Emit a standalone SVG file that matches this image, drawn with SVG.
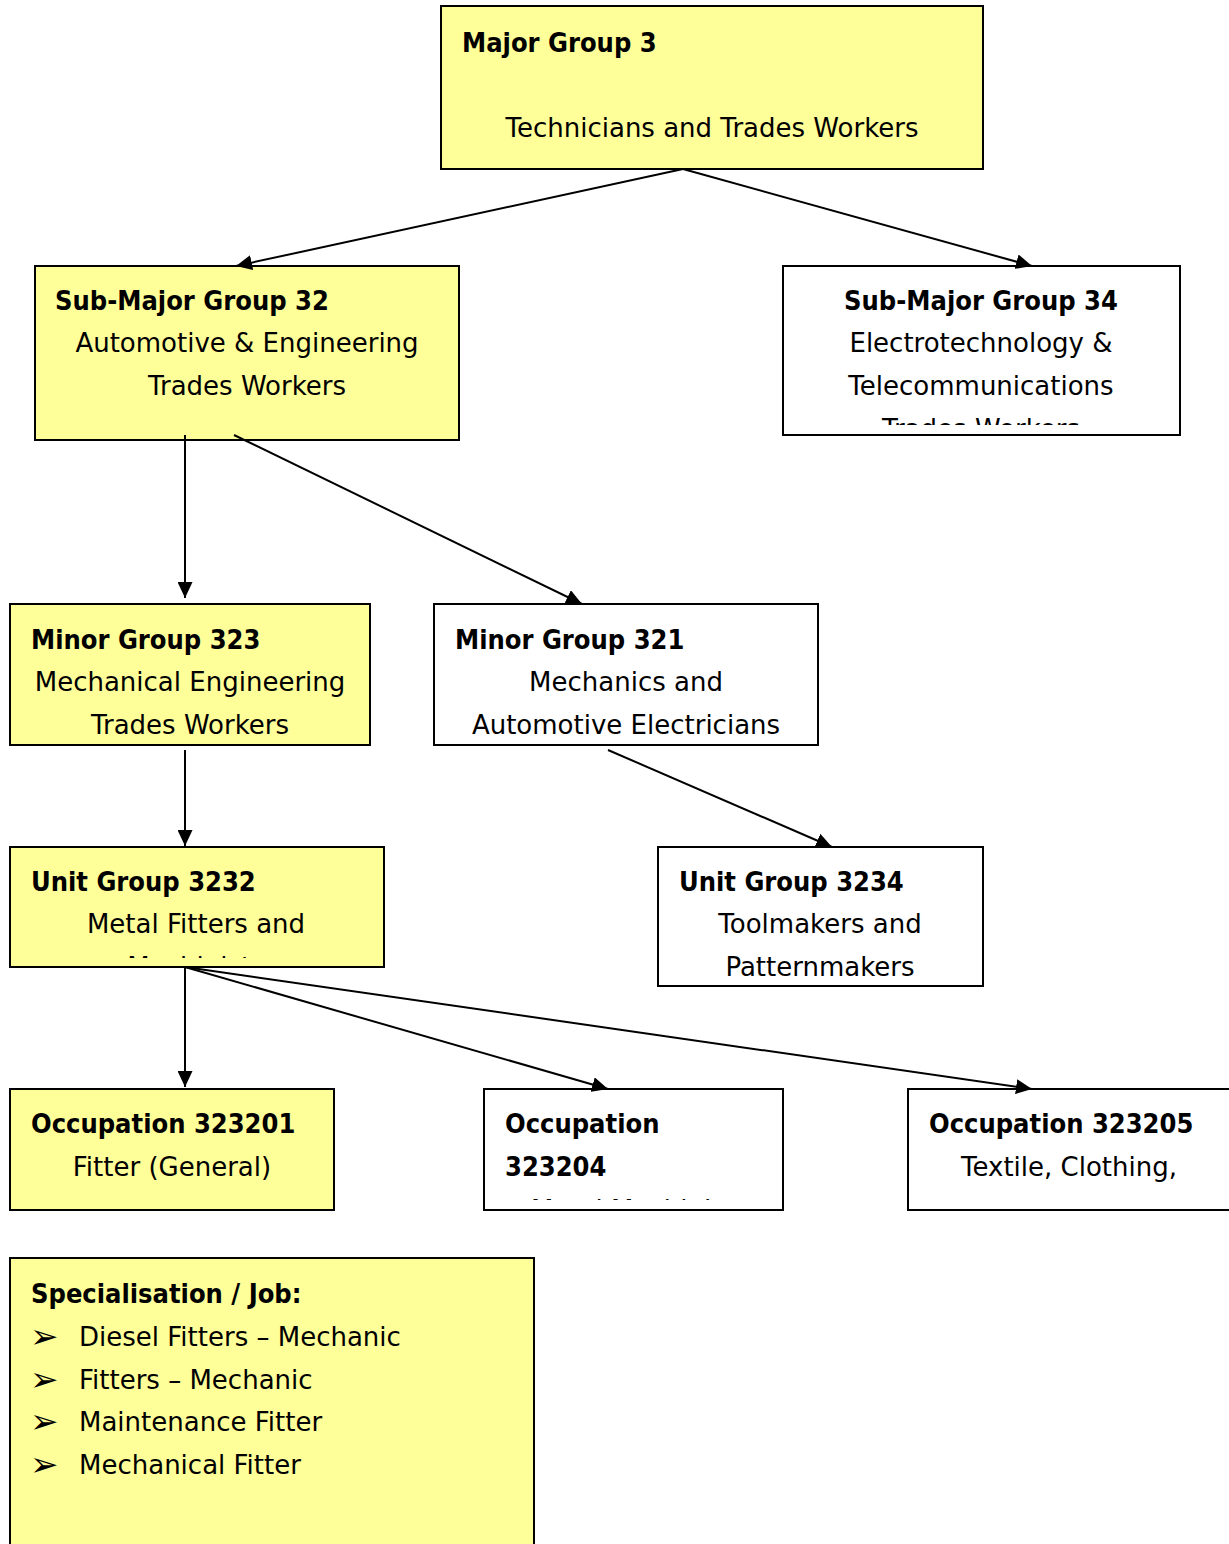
<svg xmlns="http://www.w3.org/2000/svg" width="1229" height="1544" viewBox="0 0 1229 1544">
<style>
.y{fill:#ffff99;stroke:#000;stroke-width:2}
.w{fill:#fff;stroke:#000;stroke-width:2}
text{font-family:"DejaVu Sans",sans-serif;font-size:26px;fill:#000}
.b{font-family:"DejaVu Sans Condensed","DejaVu Sans",sans-serif;font-weight:bold;font-size:27px}
.c{text-anchor:middle}
.bl{font-size:34px}
.e line{stroke:#000;stroke-width:2;marker-end:url(#ah)}
</style>
<defs>
<marker id="ah" viewBox="0 0 16 15" refX="16" refY="7.5" markerWidth="16" markerHeight="15" markerUnits="userSpaceOnUse" orient="auto">
<path d="M0,0 L16,7.5 L0,15 z" fill="#000"/>
</marker>
<clipPath id="c34"><rect x="784" y="267" width="395" height="158"/></clipPath>
<clipPath id="c3232"><rect x="11" y="848" width="372" height="110"/></clipPath>
<clipPath id="c204"><rect x="485" y="1090" width="297" height="110"/></clipPath>
<clipPath id="c205"><rect x="909" y="1090" width="320" height="107"/></clipPath>
</defs>
<g id="major3">
<rect class="y" x="441" y="6" width="542" height="163"/>
<text class="b" x="462" y="52">Major Group 3</text>
<text class="c" x="712" y="137">Technicians and Trades Workers</text>
</g>
<g id="submajor32">
<rect class="y" x="35" y="266" width="424" height="174"/>
<text class="b" x="55" y="310">Sub-Major Group 32</text>
<text class="c" x="247" y="352">Automotive &amp; Engineering</text>
<text class="c" x="247" y="395">Trades Workers</text>
</g>
<g id="submajor34">
<rect class="w" x="783" y="266" width="397" height="169"/>
<g clip-path="url(#c34)">
<text class="b c" x="981" y="310">Sub-Major Group 34</text>
<text class="c" x="981" y="352">Electrotechnology &amp;</text>
<text class="c" x="981" y="395">Telecommunications</text>
<text class="c" x="981" y="438">Trades Workers</text>
</g>
</g>
<g id="minor323">
<rect class="y" x="10" y="604" width="360" height="141"/>
<text class="b" x="31" y="649">Minor Group 323</text>
<text class="c" x="190" y="691">Mechanical Engineering</text>
<text class="c" x="190" y="734">Trades Workers</text>
</g>
<g id="minor321">
<rect class="w" x="434" y="604" width="384" height="141"/>
<text class="b" x="455" y="649">Minor Group 321</text>
<text class="c" x="626" y="691">Mechanics and</text>
<text class="c" x="626" y="734">Automotive Electricians</text>
</g>
<g id="unit3232">
<rect class="y" x="10" y="847" width="374" height="120"/>
<g clip-path="url(#c3232)">
<text class="b" x="31" y="891">Unit Group 3232</text>
<text class="c" x="196" y="933">Metal Fitters and</text>
<text class="c" x="196" y="976">Machinists</text>
</g>
</g>
<g id="unit3234">
<rect class="w" x="658" y="847" width="325" height="139"/>
<text class="b" x="679" y="891">Unit Group 3234</text>
<text class="c" x="820" y="933">Toolmakers and</text>
<text class="c" x="820" y="976">Patternmakers</text>
</g>
<g id="occ323201">
<rect class="y" x="10" y="1089" width="324" height="121"/>
<text class="b" x="31" y="1133">Occupation 323201</text>
<text class="c" x="172" y="1176">Fitter (General)</text>
</g>
<g id="occ323204">
<rect class="w" x="484" y="1089" width="299" height="121"/>
<g clip-path="url(#c204)">
<text class="b" x="505" y="1133">Occupation</text>
<text class="b" x="505" y="1176">323204</text>
<text class="c" x="633" y="1219">Metal Machinist</text>
</g>
</g>
<g id="occ323205">
<rect class="w" x="908" y="1089" width="330" height="121"/>
<g clip-path="url(#c205)">
<text class="b" x="929" y="1133">Occupation 323205</text>
<text class="c" x="1069" y="1176">Textile, Clothing,</text>
<text class="c" x="1069" y="1219">Footwear Mechanic</text>
</g>
</g>
<g id="specialisation">
<rect class="y" x="10" y="1258" width="524" height="300"/>
<text class="b" x="31" y="1303">Specialisation / Job:</text>
<text class="bl" x="30" y="1348">➢</text><text x="79" y="1346">Diesel Fitters – Mechanic</text>
<text class="bl" x="30" y="1391">➢</text><text x="79" y="1389">Fitters – Mechanic</text>
<text class="bl" x="30" y="1433">➢</text><text x="79" y="1431">Maintenance Fitter</text>
<text class="bl" x="30" y="1476">➢</text><text x="79" y="1474">Mechanical Fitter</text>
</g>
<g class="e" id="connectors">
<line x1="683" y1="169" x2="236" y2="266"/>
<line x1="683" y1="169" x2="1032" y2="266"/>
<line x1="185" y1="435" x2="185" y2="598"/>
<line x1="234" y1="435" x2="582" y2="604"/>
<line x1="185" y1="750" x2="185" y2="846"/>
<line x1="608" y1="750" x2="832" y2="847"/>
<line x1="185" y1="967" x2="185" y2="1087"/>
<line x1="185" y1="967" x2="608" y2="1089"/>
<line x1="185" y1="967" x2="1032" y2="1089"/>
</g>
</svg>
